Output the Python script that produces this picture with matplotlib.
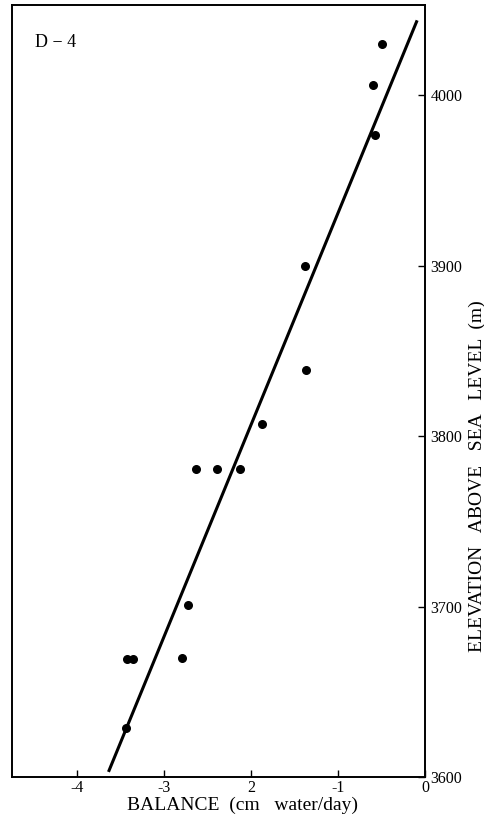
import matplotlib.pyplot as plt
import numpy as np

# balance (cm water/day) vs elevation (m), site D-4
balance = [-0.49, -0.60, -0.57, -1.38, -1.37, -1.87, -2.63, -2.39, -2.13,
           -2.72, -3.43, -3.36, -2.79, -3.44]
elevation = [4030, 4006, 3977, 3900, 3839, 3807, 3781, 3781, 3781,
             3701, 3669, 3669, 3670, 3629]

# fitted line end points
fit_x = [-3.64, -0.09]
fit_y = [3603, 4044]

xticks = [-4, -3, -2, -1, 0]
xticklabels = ['-4', '-3', '2', '-1', '0']
yticks = [3600, 3700, 3800, 3900, 4000]

plt.rcParams['font.family'] = ['Liberation Serif', 'DejaVu Serif']

fig = plt.figure(figsize=(4.85, 8.21), dpi=100)
ax = fig.add_axes([0.0247, 0.0536, 0.8515, 0.9403])

ax.plot(fit_x, fit_y, color='black', lw=2.2, solid_capstyle='butt')
ax.scatter(balance, elevation, s=30, color='black', zorder=3)

ax.set_xlim(-4.75, 0)
ax.set_ylim(3600, 4053)

ax.set_xticks(xticks)
ax.set_xticklabels(xticklabels)
ax.set_yticks(yticks)
ax.yaxis.tick_right()
ax.yaxis.set_label_position('right')
ax.tick_params(axis='both', direction='in', length=5, width=1, labelsize=11.5)
ax.tick_params(axis='x', pad=2)
ax.tick_params(axis='y', pad=4)

for s in ax.spines.values():
    s.set_linewidth(1.4)

ax.set_xlabel('BALANCE  (cm   water/day)', fontsize=14)
ax.xaxis.set_label_coords(0.557, -0.025)
ax.set_ylabel('ELEVATION   ABOVE   SEA   LEVEL  (m)', fontsize=14, rotation=90)
ax.yaxis.set_label_coords(1.107, 0.39)

ax.text(0.055, 0.945, 'D \u2212 4', transform=ax.transAxes, fontsize=13)

fig.savefig('out.png', dpi=100)
